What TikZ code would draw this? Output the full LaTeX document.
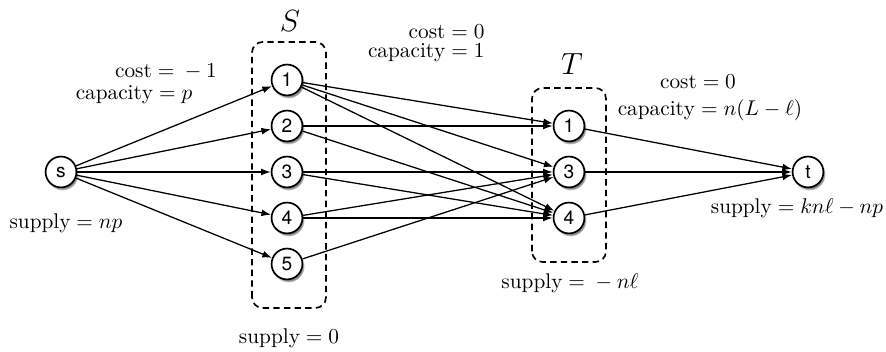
\documentclass[tikz,border=0pt]{standalone}
\usepackage{amsmath,amssymb}
\usepackage{fontspec}
\newfontfamily\helv{TeX Gyre Heros}
\usepackage{tikz}
\usetikzlibrary{arrows.meta,shadows}

\begin{document}
\begin{tikzpicture}[x=0.47pt,y=0.47pt,
    vx/.style={circle,draw,thick,fill=white,minimum size=14.5pt,inner sep=0pt,
      font=\helv\small,
      circular drop shadow={shadow xshift=0.6pt,shadow yshift=-1pt,shadow scale=1.06}},
    arc/.style={semithick,-{Latex[length=4.5pt,width=3.2pt]}},
    grp/.style={thick,rounded corners=5pt,dash pattern=on 3pt off 2pt}]
  \useasboundingbox (0,0) rectangle (886,352);
  % groups
  \draw[grp] (252,44) rectangle (326,310);
  \draw[grp] (532,90) rectangle (606,264);
  \node (Slab) at (290,331) {\Large$S$};
  \node (Tlab) at (572,288) {\Large$T$};
  % vertices
  \node[vx] (s) at (61,180) {s};
  \foreach \i/\y in {1/272,2/226,3/180,4/134,5/88}{\node[vx] (S\i) at (287,\y) {\i};}
  \foreach \i/\y in {1/226,3/180,4/134}{\node[vx] (T\i) at (569,\y) {\i};}
  \node[vx] (t) at (808,180) {t};
  % arcs
  \foreach \i in {1,...,5}{\draw[arc] (s) -- (S\i);}
  \foreach \a/\b in {1/1,1/3,1/4,2/1,2/4,3/3,3/4,4/3,4/4,5/3}{\draw[arc] (S\a) -- (T\b);}
  \foreach \i in {1,3,4}{\draw[arc] (T\i) -- (t);}
  % labels
  \node (c1) at (166,280) {$\mathrm{cost} = {} - 1$};
  \node (k1) at (134,257) {$\mathrm{capacity} = p$};
  \node[anchor=east] (c2) at (492,320) {$\mathrm{cost} = 0$};
  \node[anchor=east] (k2) at (492,299) {$\mathrm{capacity} = 1$};
  \node (c3) at (698,270) {$\mathrm{cost} = 0$};
  \node (k3) at (710,242) {$\mathrm{capacity} = n(L-\ell)$};
  \node (supS0) at (66,129) {$\mathrm{supply} = np$};
  \node (supS1) at (289,14) {$\mathrm{supply} = 0$};
  \node (supT1) at (570,69) {$\mathrm{supply} = {} - n\ell$};
  \node (supT0) at (797,144) {$\mathrm{supply} = kn\ell - np$};
\end{tikzpicture}
\end{document}
